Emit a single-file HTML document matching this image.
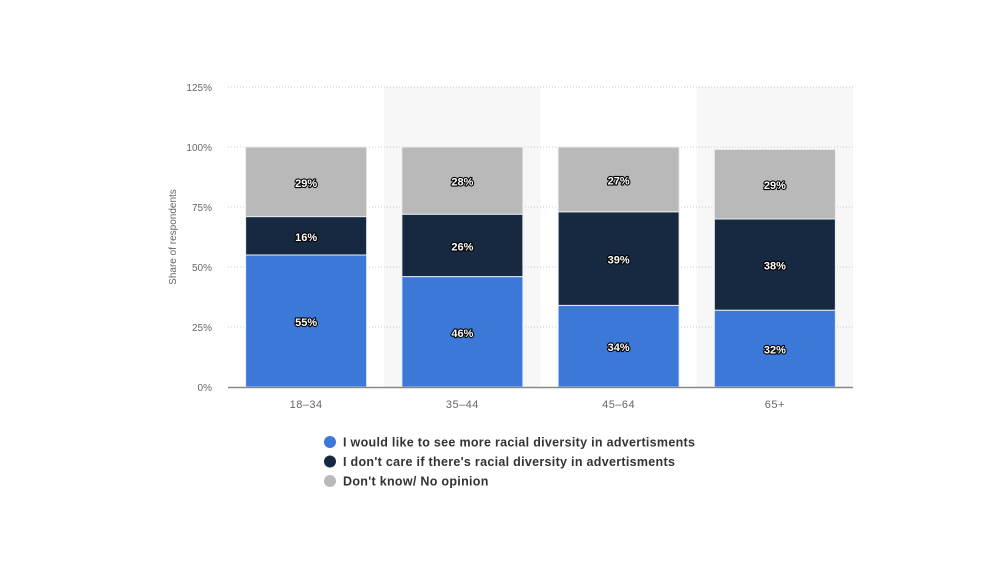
<!DOCTYPE html>
<html><head><meta charset="utf-8"><style>
body{margin:0;background:#fff;width:1004px;height:556px;overflow:hidden;font-family:"Liberation Sans","DejaVu Sans",sans-serif}
</style></head><body>
<svg id="chart" width="1004" height="556" xmlns="http://www.w3.org/2000/svg"></svg>
<script>
const categories=["18-34","35-44","45-64","65+"];
const seriesMore=[55,46,34,32];
const seriesDontCare=[16,26,39,38];
const seriesDontKnow=[29,28,27,29];
const yTicks=[0,25,50,75,100,125];
const seriesNames=["I would like to see more racial diversity in advertisments","I don't care if there's racial diversity in advertisments","Don't know/ No opinion"];
const colors=["#3c78d8","#172940","#b9b9b9"];
const NS="http://www.w3.org/2000/svg";
const svg=document.getElementById('chart');
const X0=228,X1=853,Y0=387,Y1=87,ymax=125;
const band=(X1-X0)/categories.length, bw=121;
const y=v=>Y0-(v/ymax)*(Y0-Y1);
const xc=i=>X0+band*(i+0.5);
function mk(t,a,p){const e=document.createElementNS(NS,t);for(const k in a)e.setAttribute(k,a[k]);(p||svg).appendChild(e);return e;}
categories.forEach((c,i)=>{if(i%2===1){const r=mk('rect',{x:X0+band*i,y:Y1,width:band,height:Y0-Y1,fill:'#f7f7f7'});

}});
yTicks.forEach(t=>{
 if(t>0){const l=mk('line',{x1:X0,x2:X1,y1:y(t),y2:y(t),stroke:'#ccc','stroke-dasharray':'1,2'});
 
 }
 const tx=mk('text',{x:212,y:y(t)+4,'text-anchor':'end','font-size':10,fill:'#666'});tx.textContent=t+'%';
 
 
});
const yt=mk('text',{x:0,y:0,transform:'translate(176,237) rotate(-90)','text-anchor':'middle','font-size':10,fill:'#666'});
yt.textContent='Share of respondents';


const series=[seriesMore,seriesDontCare,seriesDontKnow];
categories.forEach((c,i)=>{
 let acc=0;
 series.forEach((s,k)=>{
  const v=s[i];const top=y(acc+v),bot=y(acc);
  const r=mk('rect',{x:xc(i)-bw/2,y:top,width:bw,height:bot-top,fill:colors[k],stroke:'#e8edf3','stroke-width':1});
  
  
  const lt=mk('text',{x:xc(i),y:(top+bot)/2+5,'text-anchor':'middle','font-size':11,'font-weight':'bold',fill:'#fff',stroke:'#000','stroke-width':2.2,'paint-order':'stroke','stroke-linejoin':'round'});
  lt.textContent=v+'%';
  
  
  acc+=v;
 });
 const xl=mk('text',{x:xc(i),y:408,'text-anchor':'middle','font-size':11,fill:'#666','letter-spacing':'0.5'});
 xl.textContent=c.replace('-','–');
 
 
});
const ax=mk('line',{x1:X0,x2:X1,y1:Y0+0.5,y2:Y0+0.5,stroke:'#888','stroke-width':1.5});


seriesNames.forEach((n,k)=>{
 const g=mk('g',{});
 
 
 const yy=442+k*19.5;
 mk('circle',{cx:330,cy:yy,r:6,fill:colors[k]},g);
 const t=mk('text',{x:343,y:yy+4.5,'font-size':12.5,'font-weight':'bold',fill:'#333','letter-spacing':'0.3'},g);
 t.textContent=n;
});
</script>
</body></html>
